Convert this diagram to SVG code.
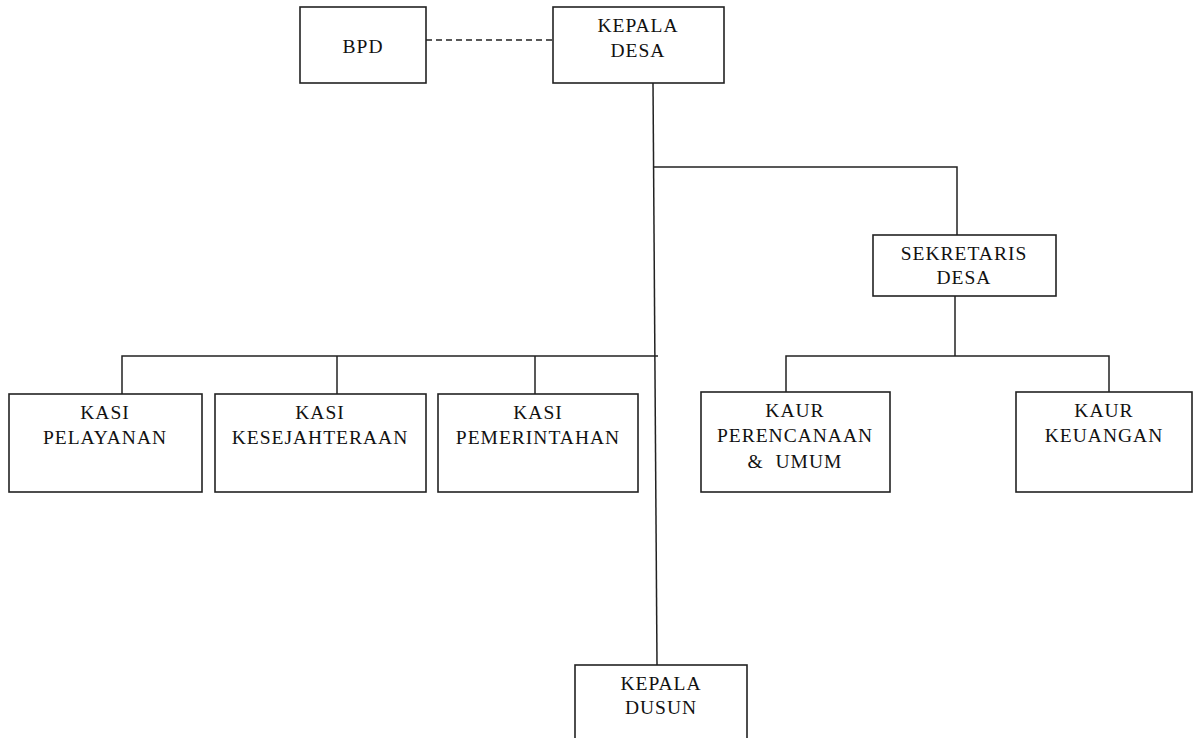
<svg xmlns="http://www.w3.org/2000/svg" width="1194" height="738" viewBox="0 0 1194 738">
<style>
.box{fill:#fff;stroke:#222;stroke-width:1.6}
.ln{fill:none;stroke:#222;stroke-width:1.5}
.t{font-family:"Liberation Serif","Times New Roman",serif;font-size:19.5px;letter-spacing:1px;fill:#111;text-anchor:middle;white-space:pre}
</style>
<rect width="1194" height="738" fill="#fff"/>
<g id="connectors">
<line class="ln" x1="426" y1="40" x2="553" y2="40" stroke-dasharray="6,4"/>
<line class="ln" x1="653" y1="83" x2="657" y2="665"/>
<polyline class="ln" points="653.3,167 957,167 957,235"/>
<polyline class="ln" points="955,296 955,356"/>
<polyline class="ln" points="786,392 786,356 1109,356 1109,392"/>
<polyline class="ln" points="122,394 122,356 658,356"/>
<line class="ln" x1="337" y1="356" x2="337" y2="394"/>
<line class="ln" x1="535" y1="356" x2="535" y2="394"/>
</g>
<g id="bpd"><rect class="box" x="300" y="7" width="126" height="76"/><text class="t" x="363" y="53">BPD</text></g>
<g id="kepala-desa"><rect class="box" x="553" y="7" width="171" height="76"/><text class="t" x="638" y="32">KEPALA</text><text class="t" x="638" y="57">DESA</text></g>
<g id="sekretaris-desa"><rect class="box" x="873" y="235" width="183" height="61"/><text class="t" x="964" y="260">SEKRETARIS</text><text class="t" x="964" y="284">DESA</text></g>
<g id="kaur-perencanaan"><rect class="box" x="701" y="392" width="189" height="100"/><text class="t" x="795" y="417">KAUR</text><text class="t" x="795" y="442">PERENCANAAN</text><text class="t" x="795" y="468">&amp;  UMUM</text></g>
<g id="kaur-keuangan"><rect class="box" x="1016" y="392" width="176" height="100"/><text class="t" x="1104" y="417">KAUR</text><text class="t" x="1104" y="442">KEUANGAN</text></g>
<g id="kasi-pelayanan"><rect class="box" x="9" y="394" width="193" height="98"/><text class="t" x="105" y="419">KASI</text><text class="t" x="105" y="444">PELAYANAN</text></g>
<g id="kasi-kesejahteraan"><rect class="box" x="215" y="394" width="211" height="98"/><text class="t" x="320" y="419">KASI</text><text class="t" x="320" y="444">KESEJAHTERAAN</text></g>
<g id="kasi-pemerintahan"><rect class="box" x="438" y="394" width="200" height="98"/><text class="t" x="538" y="419">KASI</text><text class="t" x="538" y="444">PEMERINTAHAN</text></g>
<g id="kepala-dusun"><rect class="box" x="575" y="665" width="172" height="80"/><text class="t" x="661" y="690">KEPALA</text><text class="t" x="661" y="714">DUSUN</text></g>
</svg>
